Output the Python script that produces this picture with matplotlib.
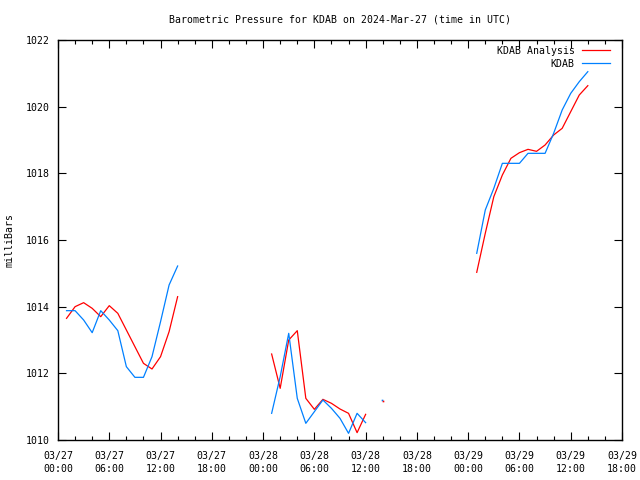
import datetime as dt
import numpy as np
import matplotlib
matplotlib.use("Agg")
import matplotlib.pyplot as plt
from matplotlib.ticker import MultipleLocator, FixedLocator

# hours after 2024-03-27 00:00 UTC, nan = gap in the record
nan = np.nan
hours = ([1, 2, 3, 4, 5, 6, 7, 8, 9, 10, 11, 12, 13, 14, nan,
          25, 26, 27, 28, 29, 30, 31, 32, 33, 34, 35, 36, nan,
          38, nan,
          49, 50, 51, 52, 53, 54, 55, 56, 57, 58, 59, 60, 61, 62])

analysis_mb = ([1013.65, 1014.0, 1014.12, 1013.95, 1013.7, 1014.03, 1013.8, 1013.3,
                1012.8, 1012.3, 1012.13, 1012.5, 1013.25, 1014.3, nan,
                1012.58, 1011.55, 1013.0, 1013.28, 1011.25, 1010.92, 1011.22,
                1011.1, 1010.93, 1010.8, 1010.22, 1010.77, nan,
                1011.18, nan,
                1015.03, 1016.2, 1017.3, 1017.95, 1018.45, 1018.62, 1018.72,
                1018.66, 1018.85, 1019.15, 1019.35, 1019.85, 1020.35, 1020.63])

station_mb = ([1013.88, 1013.88, 1013.6, 1013.22, 1013.88, 1013.6, 1013.28, 1012.2,
               1011.88, 1011.88, 1012.5, 1013.55, 1014.65, 1015.22, nan,
               1010.8, 1011.9, 1013.2, 1011.25, 1010.5, 1010.85, 1011.2,
               1010.95, 1010.65, 1010.2, 1010.8, 1010.52, nan,
               1011.2, nan,
               1015.6, 1016.9, 1017.55, 1018.3, 1018.3, 1018.3, 1018.6,
               1018.6, 1018.6, 1019.2, 1019.9, 1020.4, 1020.75, 1021.05])

start = dt.datetime(2024, 3, 27)
tick_hours = list(range(0, 67, 6))
tick_labels = [(start + dt.timedelta(hours=h)).strftime("%m/%d\n%H:%M") for h in tick_hours]

red = "#ff0000"
blue = "#0080ff"
font = "DejaVu Sans Mono"
fs = 7.1

plt.rcParams["font.family"] = font
fig = plt.figure(figsize=(6.4, 4.8), dpi=100)
ax = fig.add_axes([58 / 640, 40 / 480, 564 / 640, 400 / 480])

h = np.array(hours, dtype=float)
a = np.array(analysis_mb, dtype=float)
s = np.array(station_mb, dtype=float)

ax.plot(h, a, color=red, lw=0.9, label="KDAB Analysis")
ax.plot(h, s, color=blue, lw=0.9, label="KDAB")

# isolated readings (no neighbours) show up only as a dot
ok = ~np.isnan(h)
prev_gap = np.r_[True, np.isnan(h[:-1])]
next_gap = np.r_[np.isnan(h[1:]), True]
lone = ok & prev_gap & next_gap
ax.plot(h[lone] - 0.05, s[lone], ls="none", marker="s", ms=1.2, color=blue, mew=0)
ax.plot(h[lone] + 0.05, a[lone], ls="none", marker="s", ms=1.2, color=red, mew=0)

ax.set_xlim(0, 66)
ax.set_ylim(1010, 1022)
ax.xaxis.set_major_locator(FixedLocator(tick_hours))
ax.set_xticklabels(tick_labels, fontsize=fs, linespacing=1.35)
ax.xaxis.set_minor_locator(MultipleLocator(2))
ax.yaxis.set_major_locator(MultipleLocator(2))
ax.tick_params(axis="both", which="both", direction="in", top=True, right=True,
               width=0.8, labelsize=fs)
ax.tick_params(which="major", length=6)
ax.tick_params(which="minor", length=3)
ax.tick_params(axis="x", pad=8)
ax.tick_params(axis="y", pad=6)
for sp in ax.spines.values():
    sp.set_linewidth(1.0)

fig.text(10 / 640, 1 - 240 / 480, "milliBars", fontsize=fs, rotation=90,
         ha="center", va="center")
fig.text(340 / 640, 1 - 20 / 480,
         "Barometric Pressure for KDAB on 2024-Mar-27 (time in UTC)",
         fontsize=fs, ha="center", va="center")

ax.legend(loc="upper right", bbox_to_anchor=(1 - 6 / 564, 1.0), frameon=False,
          markerfirst=False, fontsize=fs, handlelength=2.8, handletextpad=0.8,
          labelspacing=0.3, borderaxespad=0.2)
for t in ax.get_legend().get_texts():
    t.set_ha("right")
ax.get_legend()._legend_box.align = "right"

fig.savefig("out.png", dpi=100)
